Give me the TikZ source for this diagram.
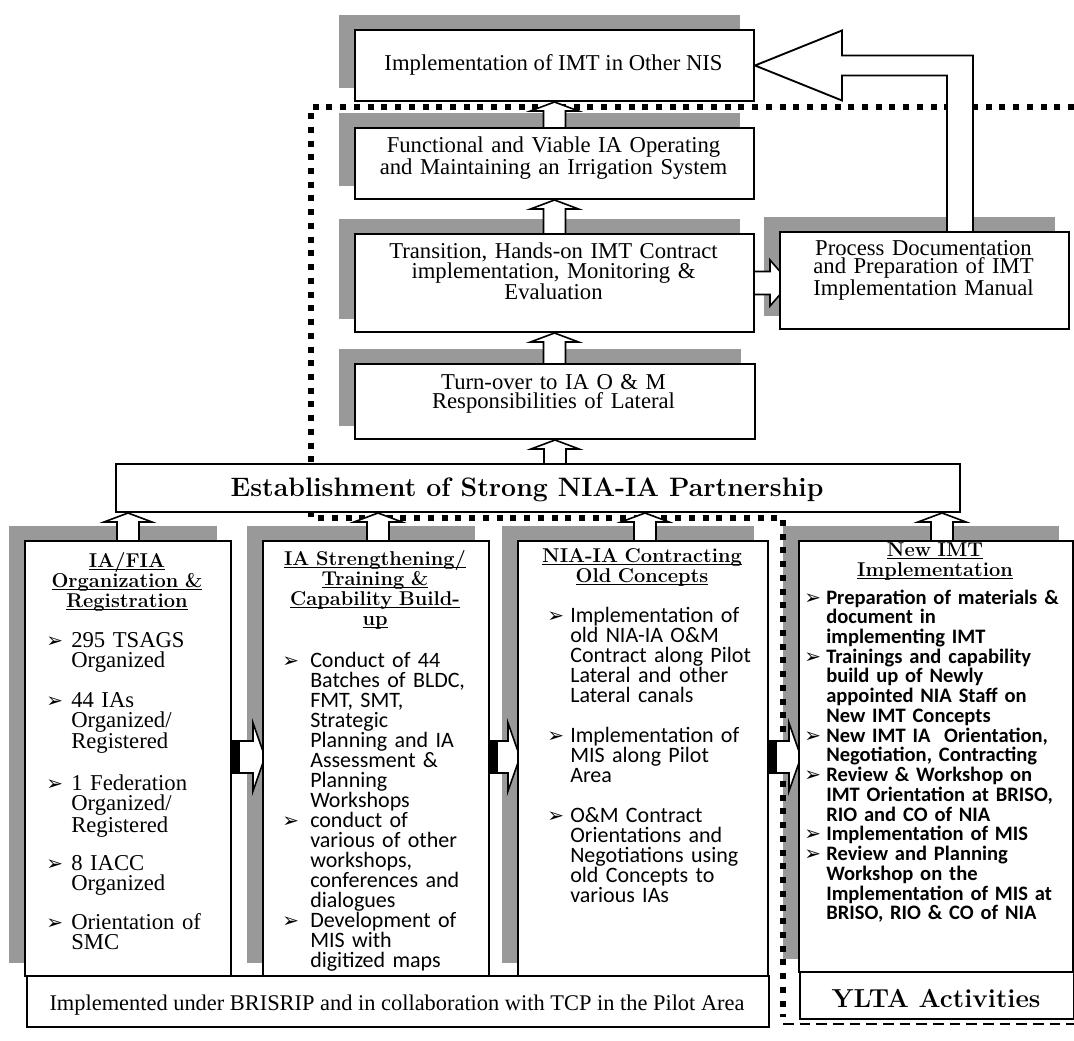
\documentclass[tikz,border=0pt]{standalone}
\usepackage{fontspec}
\newfontfamily\calib{Carlito}
\newfontfamily\timesf{Liberation Serif}
\newfontfamily\symf{DejaVu Sans}
\usetikzlibrary{calc}
\pgfdeclarelayer{shd}
\pgfdeclarelayer{dts}
\pgfdeclarelayer{arr}
\pgfsetlayers{shd,dts,arr,main}
\newlength\bwl
\newcommand\bul{{\symf\fontsize{15}{15}\selectfont ➢}}
\newcommand\itm[1]{\hangindent=\bwl\hangafter=1\noindent\hbox to\bwl{\bul\hss}#1\par}
\newcommand\ulx[1]{\leavevmode\setbox0\hbox{#1}\rlap{\rule[-2.6pt]{\wd0}{1.1pt}}\box0}
\newcommand\ttl{\bfseries\fontsize{15}{15}\selectfont}
\newcommand\topf[1]{\timesf\fontsize{17}{#1}\selectfont}
\tikzset{
 bx/.style={draw, line width=1.5pt, fill=white, inner sep=0pt, anchor=north west},
 shdw/.style={fill=black!40},
 blk/.style={draw, line width=1.2pt, fill=white, line join=miter},
 dotln/.style={line width=4.5pt, dash pattern=on 4.5pt off 5.8pt},
 dashln/.style={line width=1.5pt, dash pattern=on 8pt off 4.5pt},
 txt/.style={inner sep=0pt, anchor=base},
 coltxt/.style={inner sep=0pt, anchor=base west},
}
\newcommand\bxn[5]{\node[bx, minimum width={(#4-#2)*0.75pt}, minimum height={(#5-#3)*0.75pt}] (#1) at (#2,#3) {};}
% vertical block arrow: #1 lower node, #2 upper node, #3 x reference
\newcommand\vup[3]{%
 \draw[blk] ($(#3 |- #1.north)+(-11,1)$) -- ($(#3 |- #2.south)+(-11,9)$) -- ($(#3 |- #2.south)+(-24,9)$) -- (#3 |- #2.south) -- ($(#3 |- #2.south)+(24,9)$) -- ($(#3 |- #2.south)+(11,9)$) -- ($(#3 |- #1.north)+(11,1)$) -- cycle;}
% horizontal block arrow between columns
\newcommand\hright[3]{%
 \draw[blk] ($(#1.east |- #3)+(-1,-16)$) -- ($(#2.west |- #3)+(-9,-16)$) -- ($(#2.west |- #3)+(-9,-34)$) -- ($(#2.west |- #3)+(3,0)$) -- ($(#2.west |- #3)+(-9,34)$) -- ($(#2.west |- #3)+(-9,16)$) -- ($(#1.east |- #3)+(-1,16)$) -- cycle;
 \fill ($(#1.east |- #3)+(0,-16)$) rectangle ($(#1.east |- #3)+(8,16)$);}
\begin{document}
\begin{tikzpicture}[x=0.75pt,y=-0.75pt]
\useasboundingbox (0,0) rectangle (1074,1041);
% ---- boxes
\bxn{boxA}{354}{29}{753}{100}
\bxn{boxB}{354}{127}{753}{198}
\bxn{boxC}{354}{233}{753}{331}
\bxn{boxD}{354}{363}{754}{438}
\bxn{proc}{779}{231}{1068}{328}
\bxn{est}{115}{463}{959}{511}
\bxn{colA}{24}{540}{230}{975}
\bxn{colB}{262}{540}{488}{975}
\bxn{colC}{517}{540}{767}{975}
\bxn{colD}{798}{540}{1072}{971}
% ---- top texts
\node[txt, font=\topf{15}] (boxAt) at (553.5,71) {Implementation of IMT in Other NIS};
\node[txt, text width=300pt, align=center, font=\topf{12.5}] (boxBt) at (553.5,153) {Functional and Viable IA Operating\\and Maintaining an Irrigation System};
\node[txt, text width=300pt, align=center, font=\topf{15}] (boxCt) at (553.5,258) {Transition, Hands-on IMT Contract\\implementation, Monitoring \&\\Evaluation};
\node[txt, text width=300pt, align=center, font=\topf{14.5}] (boxDt) at (553.5,389) {Turn-over to IA O \& M\\Responsibilities of Lateral};
\node[txt, text width=215pt, align=center, font=\topf{13.5}] (proct) at (923.5,256) {Process Documentation\\and Preparation of IMT\\Implementation Manual};
\node[txt, font=\bfseries\fontsize{20}{20}\selectfont] (estt) at (527,496) {Establishment of Strong NIA-IA Partnership};
% ---- column titles
\node[txt, text width=160pt, align=center, font=\ttl] (colAh) at (127,567) {\ulx{IA/FIA}\\\ulx{Organization \&}\\\ulx{Registration}};
\node[txt, text width=170pt, align=center, font=\ttl] (colBh) at (375,565) {\ulx{IA Strengthening/}\\\ulx{Training \&}\\\ulx{Capability Build-}\\\ulx{up}};
\node[txt, text width=180pt, align=center, font=\ttl] (colCh) at (642,562) {\ulx{NIA-IA Contracting}\\\ulx{Old Concepts}};
\node[txt, text width=200pt, align=center, font=\ttl] (colDh) at (935,556) {\ulx{New IMT}\\\ulx{Implementation}};
% ---- column bullets
\node[coltxt, text width=140pt, font=\timesf\fontsize{17}{15}\selectfont] (colAb) at (46,647) {\setlength\bwl{18.75pt}%
\itm{295 TSAGS\newline Organized}\vskip15pt
\itm{44 IAs\newline Organized/\newline Registered}\vskip15pt
\itm{1 Federation\newline Organized/\newline Registered}\vskip13pt
\itm{8 IACC\newline Organized}\vskip13pt
\itm{Orientation of\newline SMC}};
\node[coltxt, text width=155pt, font=\calib\fontsize{16.5}{15}\selectfont] (colBb) at (282,667) {\setlength\bwl{21pt}%
\itm{Conduct of 44\newline Batches of BLDC,\newline FMT, SMT,\newline Strategic\newline Planning and IA\newline Assessment \&\newline Planning\newline Workshops}
\itm{conduct of\newline various of other\newline workshops,\newline conferences and\newline dialogues}
\itm{Development of\newline MIS with\newline digitized maps}};
\node[coltxt, text width=165pt, font=\calib\fontsize{16.5}{15}\selectfont] (colCb) at (547,622) {\setlength\bwl{17.25pt}%
\itm{Implementation of\newline old NIA-IA O\&M\newline Contract along Pilot\newline Lateral and other\newline Lateral canals}\vskip15pt
\itm{Implementation of\newline MIS along Pilot\newline Area}\vskip15pt
\itm{O\&M Contract\newline Orientations and\newline Negotiations using\newline old Concepts to\newline various IAs}};
\node[coltxt, text width=200pt, font=\calib\bfseries\fontsize{15.4}{14.8}\selectfont] (colDb) at (804,604) {\setlength\bwl{16.5pt}%
\itm{Preparation of materials \&\newline document in\newline implementing IMT}
\itm{Trainings and capability\newline build up of Newly\newline appointed NIA Staff on\newline New IMT Concepts}
\itm{New IMT IA\ \ Orientation,\newline Negotiation, Contracting}
\itm{Review \& Workshop on\newline IMT Orientation at BRISO,\newline RIO and CO of NIA}
\itm{Implementation of MIS}
\itm{Review and Planning\newline Workshop on the\newline Implementation of MIS at\newline BRISO, RIO \& CO of NIA}};
% ---- bottom boxes
\bxn{bot}{26}{975}{768}{1026}
\bxn{ylta}{799}{971}{1073}{1018}
\node[txt, font=\timesf\fontsize{16.8}{18}\selectfont] (bott) at (397,1010) {Implemented under BRISRIP and in collaboration with TCP in the Pilot Area};
\node[txt, font=\bfseries\fontsize{19.5}{20}\selectfont] (yltat) at (936,1007) {YLTA Activities};
\coordinate (eA) at (783,1024);
\coordinate (eB) at (1074,1024);
\draw[dashln] (eA) -- (eB);
% ---- background layers
\begin{pgfonlayer}{shd}
 \fill[white] (0,0) rectangle (1074,1041);
 \foreach \n in {boxA,boxB,boxC,boxD,proc,colA,colB,colC,colD}
  {\fill[shdw] ($(\n.north west)+(-15,-14)$) rectangle ($(\n.south east)+(-15,-14)$);}
\end{pgfonlayer}
\begin{pgfonlayer}{dts}
 \coordinate (dA) at (1074,107);
 \coordinate (dB) at (311,107);
 \coordinate (dC) at (311,518);
 \coordinate (dD) at (783,518);
 \coordinate (dE) at (783,1017);
 \draw[dotln] (dA) -- (dB) -- (dC) -- (dD) -- (dE);
\end{pgfonlayer}
\begin{pgfonlayer}{arr}
 \vup{boxB}{boxA}{boxA.south}
 \vup{boxC}{boxB}{boxB.south}
 \vup{boxD}{boxC}{boxC.south}
 \vup{est}{boxD}{boxD.south}
 \coordinate (xA) at ($(colA.north)+(0,0)$);
 \coordinate (xB) at ($(colB.north)+(2,0)$);
 \coordinate (xC) at ($(colC.north)+(2,0)$);
 \coordinate (xD) at ($(colD.north)+(6,0)$);
 \vup{colA}{est}{xA}
 \vup{colB}{est}{xB}
 \vup{colC}{est}{xC}
 \vup{colD}{est}{xD}
 \coordinate (hy) at (0,757);
 \hright{colA}{colB}{hy}
 \hright{colB}{colC}{hy}
 \hright{colC}{colD}{hy}
 % arrow to process box
 \draw[blk] ($(boxC.east)+(-1,-11.5)$) -- ($(proc.west |- boxC.east)+(-9,-11.5)$) -- ($(proc.west |- boxC.east)+(-9,-23)$) -- ($(proc.west |- boxC.east)+(11,0)$) -- ($(proc.west |- boxC.east)+(-9,23)$) -- ($(proc.west |- boxC.east)+(-9,11.5)$) -- ($(boxC.east)+(-1,11.5)$) -- cycle;
 % return arrow to top box
 \draw[blk, line width=1.4pt] ($(proc.north)+(22.5,1)$) -- ($(proc.north |- boxA.east)+(22.5,10)$) -- ($(boxA.east)+(87,10)$) -- ($(boxA.east)+(87,35)$) -- (boxA.east) -- ($(boxA.east)+(87,-35)$) -- ($(boxA.east)+(87,-10)$) -- ($(proc.north |- boxA.east)+(48.5,-10)$) -- ($(proc.north)+(48.5,1)$) -- cycle;
\end{pgfonlayer}
\end{tikzpicture}
\end{document}
